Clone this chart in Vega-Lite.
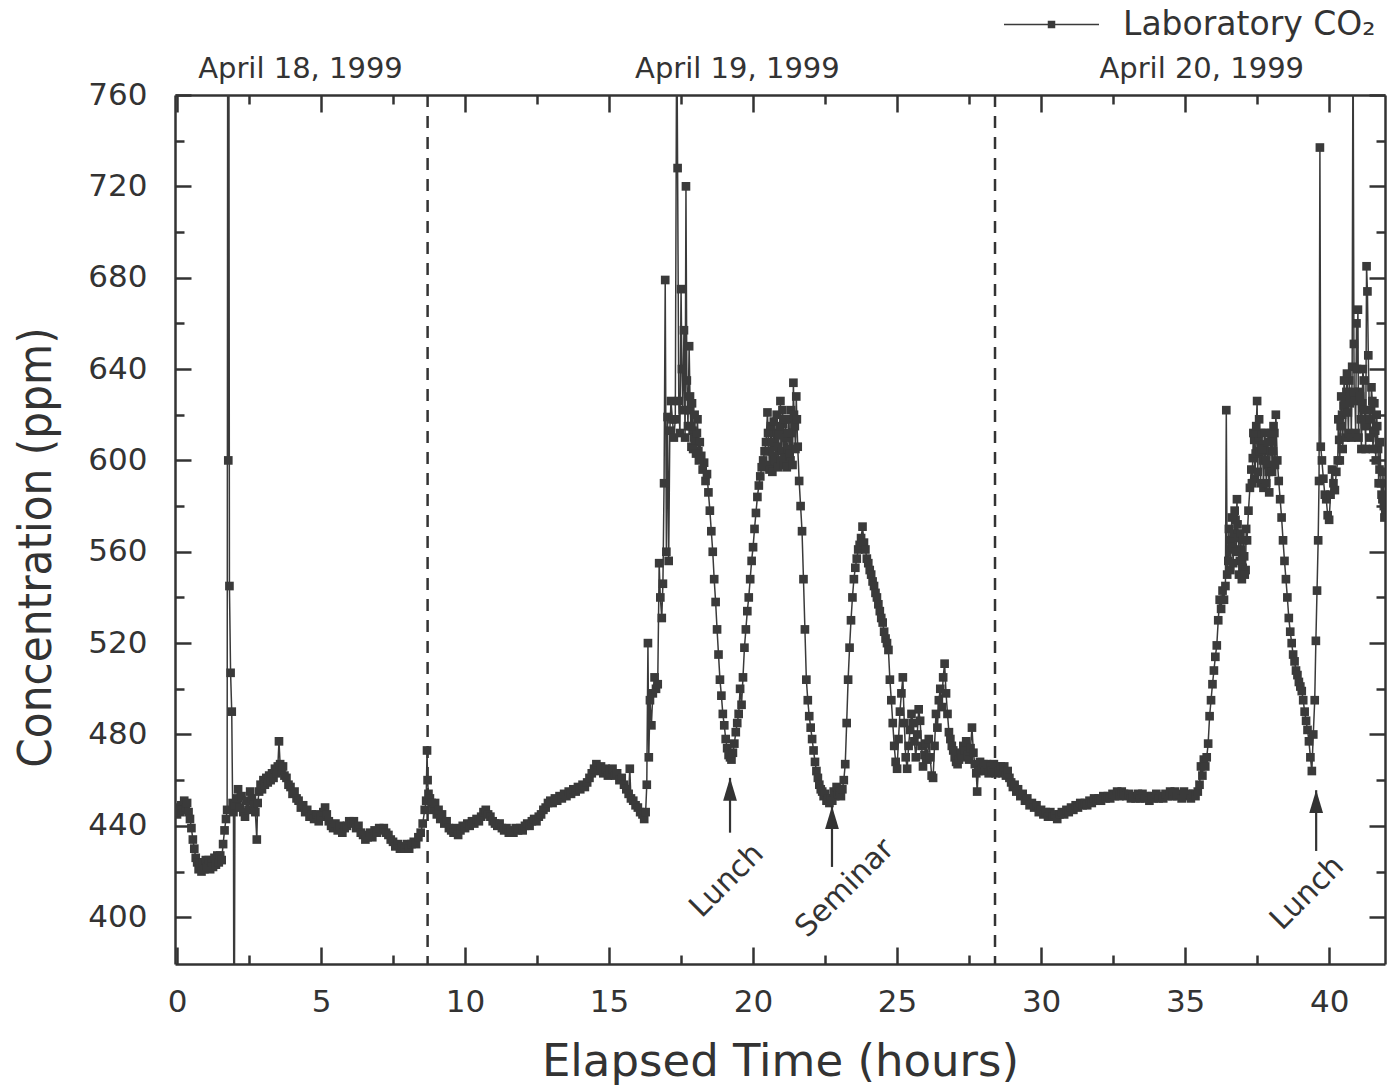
{
"$schema":"https://vega.github.io/schema/vega-lite/v6.json",
"width":1210,"height":869,
"autosize":{"type":"none"},
"padding":{"left":175,"top":95,"right":5,"bottom":125},
"background":"white",
"config":{"view":{"stroke":null},"font":"DejaVu Sans","axis":{"grid":false,"domainColor":"#333","tickColor":"#333","labelColor":"#333","titleColor":"#333","labelFont":"DejaVu Sans","titleFont":"DejaVu Sans","titleFontWeight":"normal","labelLimit":0}},
"datasets":{
"ax":[{"t":0,"v":400}],
"days":[{"t":8.7},{"t":28.4}],
"arrows":[{"t":19.2,"v1":461,"v2":437,"vh":456},{"t":22.74,"v1":448.6,"v2":422,"vh":443.6},{"t":39.55,"v1":455.6,"v2":429,"vh":450.6}],
"notes":[{"t":19.09,"v":416,"label":"Lunch"},{"t":23.19,"v":412.7,"label":"Seminar"},{"t":39.24,"v":410.5,"label":"Lunch"}],
"co2":[
{"t":0,"v":445},{"t":0.05,"v":448},{"t":0.1,"v":446},{"t":0.15,"v":449},{"t":0.2,"v":447},{"t":0.25,"v":451},{"t":0.3,"v":448},{"t":0.35,"v":450},{"t":0.4,"v":446},{"t":0.45,"v":443},{"t":0.5,"v":439},{"t":0.55,"v":434},{"t":0.6,"v":430},{"t":0.65,"v":426},{"t":0.7,"v":424},{"t":0.75,"v":421},{"t":0.8,"v":423},{"t":0.85,"v":420},{"t":0.9,"v":424},{"t":0.95,"v":421},{"t":1.0,"v":425},{"t":1.05,"v":422},{"t":1.1,"v":425},{"t":1.15,"v":421},{"t":1.2,"v":424},{"t":1.25,"v":422},{"t":1.3,"v":426},{"t":1.35,"v":423},{"t":1.4,"v":427},{"t":1.45,"v":424},{"t":1.5,"v":427},{"t":1.55,"v":425},{"t":1.6,"v":432},{"t":1.65,"v":438},{"t":1.7,"v":443},{"t":1.74,"v":447},{"t":1.76,"v":800},{"t":1.78,"v":600},{"t":1.8,"v":800},{"t":1.82,"v":545},{"t":1.86,"v":507},{"t":1.9,"v":490},{"t":1.93,"v":450},{"t":1.96,"v":446},{"t":1.98,"v":300},{"t":2.01,"v":449},{"t":2.06,"v":452},{"t":2.12,"v":456},{"t":2.18,"v":448},{"t":2.24,"v":453},{"t":2.3,"v":446},{"t":2.36,"v":444},{"t":2.42,"v":451},{"t":2.48,"v":447},{"t":2.54,"v":455},{"t":2.6,"v":452},{"t":2.66,"v":449},{"t":2.72,"v":446},{"t":2.77,"v":434},{"t":2.8,"v":450},{"t":2.85,"v":455},{"t":2.9,"v":458},{"t":2.95,"v":456},{"t":3.0,"v":460},{"t":3.05,"v":458},{"t":3.1,"v":461},{"t":3.15,"v":459},{"t":3.2,"v":462},{"t":3.25,"v":460},{"t":3.3,"v":463},{"t":3.35,"v":461},{"t":3.4,"v":465},{"t":3.45,"v":463},{"t":3.5,"v":466},{"t":3.54,"v":477},{"t":3.58,"v":467},{"t":3.63,"v":464},{"t":3.68,"v":466},{"t":3.73,"v":462},{"t":3.8,"v":461},{"t":3.87,"v":458},{"t":3.94,"v":457},{"t":4.01,"v":454},{"t":4.08,"v":455},{"t":4.15,"v":452},{"t":4.22,"v":451},{"t":4.3,"v":448},{"t":4.38,"v":449},{"t":4.45,"v":446},{"t":4.52,"v":447},{"t":4.6,"v":444},{"t":4.68,"v":445},{"t":4.76,"v":443},{"t":4.84,"v":445},{"t":4.92,"v":442},{"t":5.0,"v":444},{"t":5.08,"v":446},{"t":5.14,"v":448},{"t":5.2,"v":445},{"t":5.27,"v":442},{"t":5.35,"v":440},{"t":5.42,"v":439},{"t":5.5,"v":441},{"t":5.58,"v":438},{"t":5.66,"v":440},{"t":5.74,"v":437},{"t":5.82,"v":439},{"t":5.9,"v":440},{"t":5.98,"v":442},{"t":6.06,"v":441},{"t":6.14,"v":442},{"t":6.22,"v":439},{"t":6.3,"v":440},{"t":6.38,"v":437},{"t":6.46,"v":436},{"t":6.54,"v":434},{"t":6.62,"v":435},{"t":6.7,"v":437},{"t":6.78,"v":435},{"t":6.86,"v":438},{"t":6.94,"v":437},{"t":7.02,"v":439},{"t":7.1,"v":438},{"t":7.18,"v":439},{"t":7.26,"v":437},{"t":7.34,"v":436},{"t":7.42,"v":434},{"t":7.5,"v":433},{"t":7.58,"v":431},{"t":7.66,"v":432},{"t":7.74,"v":430},{"t":7.82,"v":431},{"t":7.9,"v":430},{"t":7.98,"v":432},{"t":8.06,"v":430},{"t":8.14,"v":432},{"t":8.22,"v":433},{"t":8.3,"v":432},{"t":8.38,"v":435},{"t":8.46,"v":437},{"t":8.53,"v":441},{"t":8.6,"v":447},{"t":8.65,"v":451},{"t":8.68,"v":473},{"t":8.7,"v":460},{"t":8.73,"v":454},{"t":8.78,"v":452},{"t":8.84,"v":450},{"t":8.9,"v":447},{"t":8.96,"v":450},{"t":9.02,"v":445},{"t":9.08,"v":447},{"t":9.14,"v":443},{"t":9.2,"v":445},{"t":9.28,"v":441},{"t":9.36,"v":442},{"t":9.44,"v":439},{"t":9.52,"v":438},{"t":9.6,"v":437},{"t":9.68,"v":439},{"t":9.76,"v":436},{"t":9.84,"v":438},{"t":9.92,"v":440},{"t":10.0,"v":439},{"t":10.08,"v":441},{"t":10.16,"v":440},{"t":10.24,"v":442},{"t":10.32,"v":441},{"t":10.4,"v":443},{"t":10.48,"v":442},{"t":10.56,"v":444},{"t":10.64,"v":446},{"t":10.72,"v":447},{"t":10.8,"v":445},{"t":10.88,"v":444},{"t":10.96,"v":442},{"t":11.04,"v":441},{"t":11.12,"v":440},{"t":11.2,"v":441},{"t":11.28,"v":439},{"t":11.36,"v":438},{"t":11.44,"v":439},{"t":11.52,"v":437},{"t":11.6,"v":438},{"t":11.68,"v":437},{"t":11.76,"v":439},{"t":11.84,"v":438},{"t":11.92,"v":439},{"t":12.0,"v":438},{"t":12.08,"v":440},{"t":12.16,"v":441},{"t":12.24,"v":440},{"t":12.32,"v":442},{"t":12.4,"v":443},{"t":12.48,"v":442},{"t":12.56,"v":444},{"t":12.64,"v":445},{"t":12.72,"v":447},{"t":12.8,"v":448},{"t":12.88,"v":450},{"t":12.96,"v":451},{"t":13.04,"v":450},{"t":13.12,"v":452},{"t":13.2,"v":451},{"t":13.28,"v":453},{"t":13.36,"v":452},{"t":13.44,"v":454},{"t":13.52,"v":453},{"t":13.6,"v":455},{"t":13.68,"v":454},{"t":13.76,"v":456},{"t":13.84,"v":455},{"t":13.92,"v":457},{"t":14.0,"v":456},{"t":14.08,"v":458},{"t":14.16,"v":457},{"t":14.24,"v":459},{"t":14.32,"v":461},{"t":14.4,"v":463},{"t":14.48,"v":465},{"t":14.56,"v":467},{"t":14.64,"v":464},{"t":14.72,"v":466},{"t":14.8,"v":463},{"t":14.88,"v":465},{"t":14.96,"v":462},{"t":15.04,"v":464},{"t":15.12,"v":465},{"t":15.2,"v":462},{"t":15.28,"v":463},{"t":15.36,"v":460},{"t":15.44,"v":461},{"t":15.52,"v":458},{"t":15.6,"v":456},{"t":15.68,"v":454},{"t":15.72,"v":465},{"t":15.76,"v":452},{"t":15.84,"v":451},{"t":15.92,"v":449},{"t":16.0,"v":448},{"t":16.08,"v":446},{"t":16.16,"v":445},{"t":16.22,"v":443},{"t":16.27,"v":446},{"t":16.31,"v":458},{"t":16.35,"v":520},{"t":16.38,"v":470},{"t":16.42,"v":495},{"t":16.47,"v":484},{"t":16.52,"v":498},{"t":16.58,"v":505},{"t":16.63,"v":500},{"t":16.69,"v":502},{"t":16.74,"v":555},{"t":16.78,"v":540},{"t":16.83,"v":531},{"t":16.87,"v":546},{"t":16.91,"v":590},{"t":16.95,"v":679},{"t":16.99,"v":560},{"t":17.03,"v":619},{"t":17.07,"v":556},{"t":17.11,"v":613},{"t":17.15,"v":626},{"t":17.2,"v":618},{"t":17.25,"v":610},{"t":17.3,"v":618},{"t":17.35,"v":800},{"t":17.38,"v":728},{"t":17.42,"v":626},{"t":17.46,"v":612},{"t":17.5,"v":675},{"t":17.53,"v":640},{"t":17.56,"v":622},{"t":17.6,"v":657},{"t":17.64,"v":610},{"t":17.67,"v":720},{"t":17.7,"v":635},{"t":17.74,"v":615},{"t":17.78,"v":650},{"t":17.82,"v":622},{"t":17.86,"v":606},{"t":17.9,"v":613},{"t":17.95,"v":610},{"t":18.0,"v":609},{"t":18.05,"v":612},{"t":18.1,"v":604},{"t":18.15,"v":608},{"t":18.2,"v":602},{"t":18.25,"v":596},{"t":18.3,"v":599},{"t":18.35,"v":591},{"t":18.4,"v":594},{"t":18.45,"v":586},{"t":18.5,"v":578},{"t":18.55,"v":569},{"t":18.6,"v":560},{"t":18.65,"v":548},{"t":18.7,"v":538},{"t":18.75,"v":526},{"t":18.8,"v":515},{"t":18.85,"v":504},{"t":18.9,"v":497},{"t":18.95,"v":489},{"t":19.0,"v":484},{"t":19.05,"v":478},{"t":19.1,"v":474},{"t":19.15,"v":471},{"t":19.2,"v":470},{"t":19.25,"v":469},{"t":19.3,"v":472},{"t":19.35,"v":476},{"t":19.4,"v":481},{"t":19.45,"v":485},{"t":19.5,"v":489},{"t":19.55,"v":500},{"t":19.6,"v":493},{"t":19.65,"v":505},{"t":19.7,"v":518},{"t":19.75,"v":526},{"t":19.8,"v":534},{"t":19.85,"v":540},{"t":19.9,"v":548},{"t":19.95,"v":556},{"t":20.0,"v":562},{"t":20.05,"v":570},{"t":20.1,"v":577},{"t":20.15,"v":584},{"t":20.2,"v":589},{"t":20.25,"v":593},{"t":20.3,"v":597},{"t":20.35,"v":600},{"t":20.4,"v":604},{"t":20.45,"v":608},{"t":20.5,"v":621},{"t":20.55,"v":604},{"t":20.6,"v":598},{"t":20.65,"v":608},{"t":20.7,"v":602},{"t":20.75,"v":612},{"t":20.8,"v":598},{"t":20.85,"v":606},{"t":20.9,"v":611},{"t":20.95,"v":626},{"t":21.0,"v":604},{"t":21.05,"v":616},{"t":21.1,"v":601},{"t":21.15,"v":610},{"t":21.2,"v":605},{"t":21.25,"v":618},{"t":21.3,"v":600},{"t":21.35,"v":612},{"t":21.4,"v":634},{"t":21.45,"v":615},{"t":21.5,"v":628},{"t":21.55,"v":606},{"t":21.6,"v":591},{"t":21.65,"v":580},{"t":21.7,"v":569},{"t":21.75,"v":548},{"t":21.8,"v":526},{"t":21.85,"v":504},{"t":21.9,"v":495},{"t":21.95,"v":488},{"t":22.0,"v":483},{"t":22.05,"v":478},{"t":22.1,"v":473},{"t":22.15,"v":468},{"t":22.2,"v":464},{"t":22.25,"v":461},{"t":22.3,"v":458},{"t":22.35,"v":456},{"t":22.4,"v":455},{"t":22.45,"v":453},{"t":22.5,"v":454},{"t":22.55,"v":451},{"t":22.6,"v":452},{"t":22.65,"v":450},{"t":22.7,"v":452},{"t":22.75,"v":451},{"t":22.8,"v":455},{"t":22.85,"v":453},{"t":22.9,"v":457},{"t":22.95,"v":454},{"t":23.0,"v":455},{"t":23.05,"v":453},{"t":23.1,"v":456},{"t":23.15,"v":460},{"t":23.2,"v":467},{"t":23.25,"v":485},{"t":23.3,"v":504},{"t":23.35,"v":518},{"t":23.4,"v":530},{"t":23.45,"v":540},{"t":23.5,"v":548},{"t":23.55,"v":553},{"t":23.6,"v":557},{"t":23.65,"v":561},{"t":23.7,"v":563},{"t":23.75,"v":566},{"t":23.8,"v":571},{"t":23.85,"v":564},{"t":23.9,"v":561},{"t":23.95,"v":557},{"t":24.0,"v":555},{"t":24.05,"v":552},{"t":24.1,"v":550},{"t":24.15,"v":547},{"t":24.2,"v":545},{"t":24.25,"v":542},{"t":24.3,"v":540},{"t":24.35,"v":537},{"t":24.4,"v":534},{"t":24.45,"v":531},{"t":24.5,"v":529},{"t":24.55,"v":525},{"t":24.6,"v":522},{"t":24.65,"v":520},{"t":24.7,"v":517},{"t":24.75,"v":504},{"t":24.8,"v":495},{"t":24.85,"v":485},{"t":24.9,"v":475},{"t":24.95,"v":468},{"t":25.0,"v":465},{"t":25.05,"v":478},{"t":25.1,"v":490},{"t":25.15,"v":498},{"t":25.2,"v":505},{"t":25.25,"v":485},{"t":25.3,"v":470},{"t":25.35,"v":465},{"t":25.4,"v":475},{"t":25.45,"v":482},{"t":25.5,"v":489},{"t":25.55,"v":485},{"t":25.6,"v":477},{"t":25.65,"v":470},{"t":25.7,"v":480},{"t":25.75,"v":491},{"t":25.8,"v":486},{"t":25.85,"v":475},{"t":25.9,"v":466},{"t":25.95,"v":471},{"t":26.0,"v":476},{"t":26.05,"v":469},{"t":26.1,"v":478},{"t":26.15,"v":470},{"t":26.2,"v":462},{"t":26.25,"v":461},{"t":26.3,"v":475},{"t":26.35,"v":489},{"t":26.4,"v":483},{"t":26.45,"v":495},{"t":26.5,"v":500},{"t":26.55,"v":492},{"t":26.6,"v":505},{"t":26.65,"v":511},{"t":26.7,"v":498},{"t":26.75,"v":489},{"t":26.8,"v":481},{"t":26.85,"v":478},{"t":26.9,"v":475},{"t":26.95,"v":473},{"t":27.0,"v":470},{"t":27.05,"v":468},{"t":27.1,"v":467},{"t":27.15,"v":469},{"t":27.2,"v":472},{"t":27.25,"v":470},{"t":27.3,"v":475},{"t":27.35,"v":473},{"t":27.4,"v":477},{"t":27.45,"v":471},{"t":27.5,"v":469},{"t":27.55,"v":474},{"t":27.6,"v":483},{"t":27.65,"v":472},{"t":27.7,"v":467},{"t":27.75,"v":463},{"t":27.78,"v":455},{"t":27.82,"v":464},{"t":27.88,"v":468},{"t":27.94,"v":465},{"t":28.0,"v":467},{"t":28.06,"v":464},{"t":28.12,"v":467},{"t":28.18,"v":463},{"t":28.24,"v":466},{"t":28.3,"v":464},{"t":28.36,"v":467},{"t":28.42,"v":463},{"t":28.48,"v":466},{"t":28.54,"v":464},{"t":28.6,"v":466},{"t":28.66,"v":463},{"t":28.72,"v":466},{"t":28.78,"v":462},{"t":28.84,"v":464},{"t":28.9,"v":461},{"t":28.96,"v":459},{"t":29.02,"v":457},{"t":29.08,"v":458},{"t":29.14,"v":455},{"t":29.2,"v":456},{"t":29.28,"v":453},{"t":29.36,"v":454},{"t":29.44,"v":451},{"t":29.52,"v":452},{"t":29.6,"v":449},{"t":29.68,"v":450},{"t":29.76,"v":448},{"t":29.84,"v":449},{"t":29.92,"v":446},{"t":30.0,"v":447},{"t":30.08,"v":445},{"t":30.16,"v":446},{"t":30.24,"v":444},{"t":30.32,"v":446},{"t":30.4,"v":444},{"t":30.48,"v":445},{"t":30.56,"v":443},{"t":30.64,"v":445},{"t":30.72,"v":446},{"t":30.8,"v":445},{"t":30.88,"v":447},{"t":30.96,"v":446},{"t":31.04,"v":448},{"t":31.12,"v":447},{"t":31.2,"v":449},{"t":31.28,"v":448},{"t":31.36,"v":450},{"t":31.44,"v":449},{"t":31.52,"v":450},{"t":31.6,"v":449},{"t":31.68,"v":451},{"t":31.76,"v":450},{"t":31.84,"v":452},{"t":31.92,"v":451},{"t":32.0,"v":452},{"t":32.08,"v":451},{"t":32.16,"v":453},{"t":32.24,"v":452},{"t":32.32,"v":453},{"t":32.4,"v":452},{"t":32.48,"v":454},{"t":32.56,"v":453},{"t":32.64,"v":455},{"t":32.72,"v":453},{"t":32.8,"v":455},{"t":32.88,"v":454},{"t":32.96,"v":453},{"t":33.04,"v":454},{"t":33.12,"v":452},{"t":33.2,"v":453},{"t":33.28,"v":452},{"t":33.36,"v":454},{"t":33.44,"v":452},{"t":33.52,"v":454},{"t":33.6,"v":452},{"t":33.68,"v":453},{"t":33.76,"v":451},{"t":33.84,"v":453},{"t":33.92,"v":452},{"t":34.0,"v":454},{"t":34.08,"v":452},{"t":34.16,"v":453},{"t":34.24,"v":452},{"t":34.32,"v":454},{"t":34.4,"v":453},{"t":34.48,"v":455},{"t":34.56,"v":453},{"t":34.64,"v":455},{"t":34.72,"v":453},{"t":34.8,"v":454},{"t":34.88,"v":452},{"t":34.96,"v":455},{"t":35.04,"v":453},{"t":35.12,"v":454},{"t":35.2,"v":452},{"t":35.28,"v":454},{"t":35.36,"v":453},{"t":35.44,"v":455},{"t":35.5,"v":458},{"t":35.55,"v":466},{"t":35.6,"v":462},{"t":35.65,"v":469},{"t":35.7,"v":466},{"t":35.75,"v":470},{"t":35.8,"v":476},{"t":35.85,"v":488},{"t":35.9,"v":495},{"t":35.95,"v":502},{"t":36.0,"v":508},{"t":36.05,"v":514},{"t":36.1,"v":519},{"t":36.15,"v":530},{"t":36.2,"v":539},{"t":36.25,"v":535},{"t":36.3,"v":543},{"t":36.35,"v":539},{"t":36.4,"v":545},{"t":36.43,"v":622},{"t":36.46,"v":550},{"t":36.5,"v":556},{"t":36.55,"v":561},{"t":36.6,"v":565},{"t":36.65,"v":562},{"t":36.7,"v":568},{"t":36.75,"v":574},{"t":36.8,"v":583},{"t":36.85,"v":566},{"t":36.9,"v":556},{"t":36.95,"v":561},{"t":37.0,"v":553},{"t":37.05,"v":558},{"t":37.1,"v":552},{"t":37.15,"v":565},{"t":37.2,"v":578},{"t":37.25,"v":588},{"t":37.3,"v":596},{"t":37.35,"v":601},{"t":37.4,"v":609},{"t":37.45,"v":603},{"t":37.5,"v":626},{"t":37.55,"v":610},{"t":37.6,"v":604},{"t":37.65,"v":612},{"t":37.7,"v":600},{"t":37.75,"v":607},{"t":37.8,"v":600},{"t":37.85,"v":598},{"t":37.9,"v":595},{"t":37.95,"v":604},{"t":38.0,"v":609},{"t":38.05,"v":604},{"t":38.1,"v":612},{"t":38.15,"v":620},{"t":38.2,"v":600},{"t":38.25,"v":591},{"t":38.3,"v":583},{"t":38.35,"v":575},{"t":38.4,"v":565},{"t":38.45,"v":556},{"t":38.5,"v":548},{"t":38.55,"v":540},{"t":38.6,"v":531},{"t":38.65,"v":525},{"t":38.7,"v":520},{"t":38.75,"v":515},{"t":38.8,"v":512},{"t":38.85,"v":508},{"t":38.9,"v":506},{"t":38.95,"v":503},{"t":39.0,"v":501},{"t":39.05,"v":499},{"t":39.1,"v":495},{"t":39.15,"v":490},{"t":39.2,"v":486},{"t":39.25,"v":482},{"t":39.3,"v":477},{"t":39.35,"v":470},{"t":39.4,"v":464},{"t":39.45,"v":480},{"t":39.5,"v":495},{"t":39.54,"v":521},{"t":39.58,"v":543},{"t":39.62,"v":565},{"t":39.65,"v":591},{"t":39.68,"v":737},{"t":39.71,"v":606},{"t":39.75,"v":600},{"t":39.8,"v":592},{"t":39.85,"v":585},{"t":39.9,"v":583},{"t":39.95,"v":576},{"t":40.0,"v":574},{"t":40.05,"v":585},{"t":40.1,"v":596},{"t":40.15,"v":590},{"t":40.2,"v":587},{"t":40.25,"v":595},{"t":40.3,"v":600},{"t":40.35,"v":609},{"t":40.4,"v":615},{"t":40.45,"v":620},{"t":40.5,"v":624},{"t":40.55,"v":626},{"t":40.6,"v":630},{"t":40.65,"v":621},{"t":40.7,"v":635},{"t":40.75,"v":628},{"t":40.8,"v":641},{"t":40.83,"v":800},{"t":40.86,"v":651},{"t":40.9,"v":626},{"t":40.95,"v":660},{"t":41.0,"v":666},{"t":41.05,"v":630},{"t":41.1,"v":618},{"t":41.15,"v":625},{"t":41.2,"v":635},{"t":41.25,"v":615},{"t":41.3,"v":685},{"t":41.33,"v":674},{"t":41.36,"v":646},{"t":41.4,"v":618},{"t":41.45,"v":622},{"t":41.5,"v":626},{"t":41.55,"v":612},{"t":41.6,"v":613},{"t":41.65,"v":620},{"t":41.7,"v":605},{"t":41.75,"v":596},{"t":41.8,"v":590},{"t":41.85,"v":583},{"t":41.9,"v":580},{"t":41.95,"v":577},
{"t":17.81,"v":628},{"t":17.84,"v":615},{"t":17.88,"v":625},{"t":17.92,"v":605},{"t":17.97,"v":620},{"t":18.02,"v":603},{"t":18.07,"v":618},{"t":18.12,"v":600},
{"t":20.52,"v":612},{"t":20.57,"v":596},{"t":20.62,"v":615},{"t":20.67,"v":595},{"t":20.72,"v":617},{"t":20.77,"v":600},{"t":20.82,"v":620},{"t":20.87,"v":597},{"t":20.92,"v":615},{"t":20.97,"v":600},{"t":21.02,"v":622},{"t":21.07,"v":598},{"t":21.12,"v":618},{"t":21.17,"v":597},{"t":21.22,"v":612},{"t":21.27,"v":603},{"t":21.32,"v":622},{"t":21.37,"v":598},{"t":21.42,"v":620},{"t":21.47,"v":605},{"t":21.52,"v":618},
{"t":36.52,"v":570},{"t":36.57,"v":552},{"t":36.62,"v":575},{"t":36.67,"v":555},{"t":36.72,"v":578},{"t":36.77,"v":560},{"t":36.82,"v":572},{"t":36.87,"v":550},{"t":36.92,"v":568},{"t":36.97,"v":548},{"t":37.02,"v":565},{"t":37.07,"v":550},{"t":37.12,"v":570},
{"t":37.32,"v":590},{"t":37.37,"v":612},{"t":37.42,"v":592},{"t":37.47,"v":615},{"t":37.52,"v":595},{"t":37.57,"v":618},{"t":37.62,"v":590},{"t":37.67,"v":605},{"t":37.72,"v":588},{"t":37.77,"v":612},{"t":37.82,"v":590},{"t":37.87,"v":608},{"t":37.92,"v":586},{"t":37.97,"v":612},{"t":38.02,"v":595},{"t":38.07,"v":615},{"t":38.12,"v":598},
{"t":40.32,"v":618},{"t":40.37,"v":600},{"t":40.42,"v":628},{"t":40.47,"v":605},{"t":40.52,"v":635},{"t":40.57,"v":610},{"t":40.62,"v":638},{"t":40.67,"v":612},{"t":40.72,"v":625},{"t":40.77,"v":610},{"t":40.87,"v":630},{"t":40.92,"v":612},{"t":40.97,"v":640},{"t":41.02,"v":610},{"t":41.07,"v":628},{"t":41.12,"v":605},{"t":41.17,"v":640},{"t":41.22,"v":622},{"t":41.27,"v":605},{"t":41.42,"v":610},{"t":41.47,"v":632},{"t":41.52,"v":605},{"t":41.57,"v":625},{"t":41.62,"v":600},{"t":41.67,"v":615},{"t":41.72,"v":590},{"t":41.77,"v":608},{"t":41.82,"v":585},{"t":41.87,"v":595},{"t":41.92,"v":575}
]},
"layer":[
{"data":{"name":"ax"},"mark":{"type":"point","opacity":0},
 "encoding":{
  "x":{"field":"t","type":"quantitative","scale":{"domain":[-0.07,41.94],"nice":false,"zero":false},
   "axis":{"orient":"bottom","values":[0,5,10,15,20,25,30,35,40],"format":"d","tickSize":-17,"tickWidth":2.5,"domain":true,"domainWidth":2.5,"labelFontSize":31,"labelPadding":40,"labelFlush":false,"labelOverlap":false,"title":"Elapsed Time (hours)","titleFontSize":45,"titlePadding":22}},
  "y":{"field":"v","type":"quantitative","scale":{"domain":[379.5,760],"nice":false,"zero":false},
   "axis":{"orient":"left","values":[400,440,480,520,560,600,640,680,720,760],"format":"d","tickSize":-16,"tickWidth":2.5,"domain":true,"domainWidth":2.5,"labelFontSize":31,"labelPadding":44,"labelFlush":false,"labelOverlap":false,"title":"Concentration (ppm)","titleFont":"DejaVu Sans Condensed, DejaVu Sans","titleFontSize":47,"titlePadding":27,"titleY":452}}}},
{"data":{"name":"ax"},"mark":{"type":"point","opacity":0},
 "encoding":{
  "x":{"field":"t","type":"quantitative","scale":{"domain":[-0.07,41.94],"nice":false,"zero":false},
   "axis":{"orient":"bottom","values":[2.5,7.5,12.5,17.5,22.5,27.5,32.5,37.5],"labels":false,"tickSize":-9,"tickWidth":2.5,"domain":false,"title":null}},
  "y":{"field":"v","type":"quantitative","scale":{"domain":[379.5,760],"nice":false,"zero":false},
   "axis":{"orient":"left","values":[420,460,500,540,580,620,660,700,740],"labels":false,"tickSize":-9,"tickWidth":2.5,"domain":false,"title":null}}}},
{"data":{"name":"ax"},"mark":{"type":"point","opacity":0},
 "encoding":{
  "x":{"field":"t","type":"quantitative","scale":{"domain":[-0.07,41.94],"nice":false,"zero":false},
   "axis":{"orient":"top","values":[0,5,10,15,20,25,30,35,40],"labels":false,"tickSize":-17,"tickWidth":2.5,"domain":true,"domainWidth":2.5,"title":null}},
  "y":{"field":"v","type":"quantitative","scale":{"domain":[379.5,760],"nice":false,"zero":false},
   "axis":{"orient":"right","values":[400,440,480,520,560,600,640,680,720,760],"labels":false,"tickSize":-16,"tickWidth":2.5,"domain":true,"domainWidth":2.5,"title":null}}}},
{"data":{"name":"ax"},"mark":{"type":"point","opacity":0},
 "encoding":{
  "x":{"field":"t","type":"quantitative","scale":{"domain":[-0.07,41.94],"nice":false,"zero":false},
   "axis":{"orient":"top","values":[2.5,7.5,12.5,17.5,22.5,27.5,32.5,37.5],"labels":false,"tickSize":-9,"tickWidth":2.5,"domain":false,"title":null}},
  "y":{"field":"v","type":"quantitative","scale":{"domain":[379.5,760],"nice":false,"zero":false},
   "axis":{"orient":"right","values":[420,460,500,540,580,620,660,700,740],"labels":false,"tickSize":-9,"tickWidth":2.5,"domain":false,"title":null}}}},
{"data":{"name":"ax"},"mark":{"type":"point","opacity":0},
 "encoding":{
  "x":{"field":"t","type":"quantitative","scale":{"domain":[-0.07,41.94],"nice":false,"zero":false},
   "axis":{"orient":"top","values":[4.27,19.44,35.56],"labelExpr":"datum.value < 10 ? 'April 18, 1999' : datum.value < 30 ? 'April 19, 1999' : 'April 20, 1999'","ticks":false,"tickSize":0,"domain":false,"labelFontSize":29,"labelPadding":12,"labelLimit":0,"labelFlush":false,"labelOverlap":false,"title":null}},
  "y":{"field":"v","type":"quantitative","scale":{"domain":[379.5,760],"nice":false,"zero":false},"axis":null}}},
{"data":{"name":"days"},"mark":{"type":"rule","color":"#333","strokeWidth":2.5,"strokeDash":[12,9]},
 "encoding":{"x":{"field":"t","type":"quantitative","scale":{"domain":[-0.07,41.94],"nice":false,"zero":false},"axis":null}}},
{"data":{"name":"co2"},"mark":{"type":"line","clip":true,"strokeWidth":1.5},
 "encoding":{
  "x":{"field":"t","type":"quantitative","scale":{"domain":[-0.07,41.94],"nice":false,"zero":false},"axis":null},
  "y":{"field":"v","type":"quantitative","scale":{"domain":[379.5,760],"nice":false,"zero":false},"axis":null},
  "color":{"datum":"Laboratory CO₂","type":"nominal","scale":{"range":["#3a3a3a"]},
   "legend":{"orient":"none","legendX":860,"legendY":-87,"title":null,"padding":0,"symbolType":"M-9.5,0H9.5M-0.6,-0.6H0.6V0.6H-0.6Z","symbolSize":100,"symbolStrokeWidth":1.5,"symbolFillColor":"#3a3a3a","symbolStrokeColor":"#3a3a3a","labelFont":"DejaVu Sans","labelFontSize":33,"labelColor":"#333","labelOffset":55,"labelLimit":0,
    "encode":{"symbols":{"update":{"fill":{"value":"#3a3a3a"},"stroke":{"value":"#3a3a3a"},"strokeWidth":{"value":1.5}}}}}}}},
{"data":{"name":"co2"},"mark":{"type":"point","clip":true,"shape":"square","size":75,"filled":true,"color":"#3a3a3a","opacity":1},
 "encoding":{
  "x":{"field":"t","type":"quantitative","scale":{"domain":[-0.07,41.94],"nice":false,"zero":false},"axis":null},
  "y":{"field":"v","type":"quantitative","scale":{"domain":[379.5,760],"nice":false,"zero":false},"axis":null}}},
{"data":{"name":"arrows"},"mark":{"type":"rule","color":"#333","strokeWidth":2.2},
 "encoding":{
  "x":{"field":"t","type":"quantitative","scale":{"domain":[-0.07,41.94],"nice":false,"zero":false},"axis":null},
  "y":{"field":"v1","type":"quantitative","scale":{"domain":[379.5,760],"nice":false,"zero":false},"axis":null},
  "y2":{"field":"v2"}}},
{"data":{"name":"arrows"},"mark":{"type":"point","shape":"M0,-1L-0.6,1L0.6,1Z","size":529,"filled":true,"color":"#333","opacity":1},
 "encoding":{
  "x":{"field":"t","type":"quantitative","scale":{"domain":[-0.07,41.94],"nice":false,"zero":false},"axis":null},
  "y":{"field":"vh","type":"quantitative","scale":{"domain":[379.5,760],"nice":false,"zero":false},"axis":null}}},
{"data":{"name":"notes"},"mark":{"type":"text","angle":-45,"fontSize":30,"font":"DejaVu Sans","color":"#333","align":"center","baseline":"middle"},
 "encoding":{
  "x":{"field":"t","type":"quantitative","scale":{"domain":[-0.07,41.94],"nice":false,"zero":false},"axis":null},
  "y":{"field":"v","type":"quantitative","scale":{"domain":[379.5,760],"nice":false,"zero":false},"axis":null},
  "text":{"field":"label"}}}
]
}
